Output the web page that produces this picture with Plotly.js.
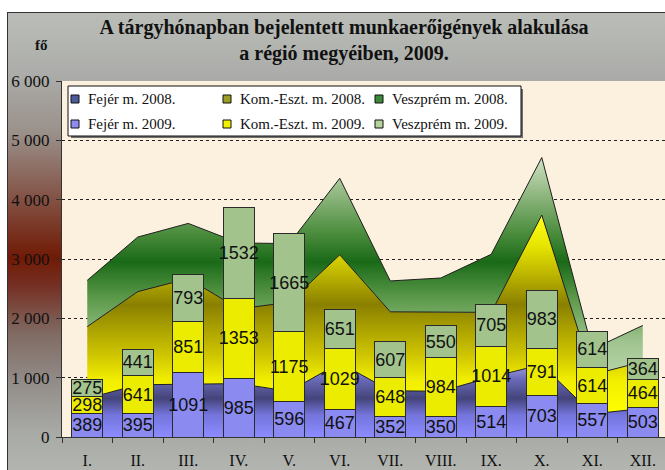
<!DOCTYPE html>
<html>
<head>
<meta charset="utf-8">
<script src="https://cdn.plot.ly/plotly-3.0.1.min.js"></script>
<style>
  html, body { margin: 0; padding: 0; background: #ffffff; overflow: hidden; }
  #bg {
    position: absolute; left: 7px; top: 12px; width: 670px; height: 470px;
    border-left: 1px solid #333; border-top: 1px solid #333;
    background: linear-gradient(to bottom,
      #babdb7 0px, #acadaa 60px, #9a908a 120px, #85574a 180px,
      #701a05 245px, #763226 275px, #806a62 320px, #938d89 370px,
      #a8aaa6 420px, #b3b5b1 458px);
  }
  #chart { position: absolute; left: 0; top: 0; width: 665px; height: 470px; }
</style>
</head>
<body>
<div id="bg"></div>
<div id="chart"></div>
<script>
// ---- data ----
const months = ['I.', 'II.', 'III.', 'IV.', 'V.', 'VI.', 'VII.', 'VIII.', 'IX.', 'X.', 'XI.', 'XII.'];
// 2008 (stacked areas)
const fejer2008 = [650, 880, 890, 900, 770, 1250, 780, 770, 1010, 1220, 390, 480];
const komEszt2008 = [1210, 1570, 1780, 1260, 1500, 1820, 1330, 1330, 1090, 2520, 660, 790];
const veszprem2008 = [780, 920, 930, 1110, 990, 1290, 520, 580, 980, 970, 430, 610];
// 2009 (stacked bars)
const fejer2009 = [389, 395, 1091, 985, 596, 467, 352, 350, 514, 703, 557, 503];
const komEszt2009 = [298, 641, 851, 1353, 1175, 1029, 648, 984, 1014, 791, 614, 464];
const veszprem2009 = [275, 441, 793, 1532, 1665, 651, 607, 550, 705, 983, 614, 364];
// axis labels
const yTickVals = [0, 1000, 2000, 3000, 4000, 5000, 6000];
const yTickText = ['0', '1 000', '2 000', '3 000', '4 000', '5 000', '6 000'];
const legendNames2008 = ['Fejér m. 2008.', 'Kom.-Eszt. m. 2008.', 'Veszprém m. 2008.'];
const legendNames2009 = ['Fejér m. 2009.', 'Kom.-Eszt. m. 2009.', 'Veszprém m. 2009.'];
const titleLines = ['A tárgyhónapban bejelentett munkaerőigények alakulása', 'a régió megyéiben, 2009.'];
const yUnit = 'fő';

// ---- styles ----
const serif = 'Liberation Serif, Times New Roman, serif';
const sans = 'Liberation Sans, Arial, sans-serif';
const legendSwatch2008 = ['#4c5a98', '#9a9e22', '#3a8a3a'];
const legendSwatch2009 = ['#8c8cf2', '#f0f000', '#b4d49c'];
const barColors = ['#8a8af0', '#ecec00', '#a2c48c'];

function areaTrace(name, y, gradient) {
  return {
    type: 'scatter', mode: 'lines', name: name, x: months, y: y,
    stackgroup: 'y2008', showlegend: false, hoverinfo: 'skip',
    line: { color: '#1e1e1e', width: 1 },
    fillgradient: gradient
  };
}
function barTrace(name, y, color) {
  return {
    type: 'bar', name: name, x: months, y: y, xaxis: 'x2', yaxis: 'y2',
    showlegend: false,
    marker: { color: color, line: { color: '#2a2a2a', width: 1 } },
    text: y.map(String), textposition: 'inside', insidetextanchor: 'middle',
    textangle: 0, constraintext: 'none', cliponaxis: false,
    textfont: { family: sans, size: 18, color: '#111' }
  };
}

const data = [
  areaTrace(legendNames2008[0], fejer2008, {
    type: 'vertical', start: 0, stop: 1250,
    colorscale: [[0, '#8c8cff'], [0.3, '#7474dc'], [0.52, '#44447a'], [0.78, '#6a6ab8'], [1, '#a4a4ee']]
  }),
  areaTrace(legendNames2008[1], komEszt2008, {
    type: 'vertical', start: 390, stop: 3740,
    colorscale: [[0, '#ffff00'], [0.17, '#f2ee00'], [0.3, '#cdc400'], [0.55, '#8a8000'], [0.7, '#bcb400'], [0.85, '#e8e600'], [1, '#ffff20']]
  }),
  areaTrace(legendNames2008[2], veszprem2008, {
    type: 'vertical', start: 1050, stop: 4710,
    colorscale: [[0, '#b8d4a8'], [0.15, '#a0c490'], [0.35, '#5c9a4a'], [0.52, '#1a6a18'], [0.65, '#4a8c3c'], [0.85, '#98bc88'], [1, '#d0e2c6']]
  }),
  barTrace(legendNames2009[0], fejer2009, barColors[0]),
  barTrace(legendNames2009[1], komEszt2009, barColors[1]),
  barTrace(legendNames2009[2], veszprem2009, barColors[2])
];

// manual legend (shapes + annotations), pixel offsets from plot top-left
const shapes = [];
const annotations = [];
function pxRect(x0, x1, y0, y1, fill, lineColor, lw) {
  return {
    type: 'rect', xref: 'paper', yref: 'paper', xsizemode: 'pixel', ysizemode: 'pixel',
    xanchor: 0, yanchor: 1, x0: x0, x1: x1, y0: -y0, y1: -y1,
    fillcolor: fill, line: { color: lineColor, width: lw }, layer: 'above'
  };
}
shapes.push(pxRect(9, 461, 8, 57, '#6e6e6e', '#6e6e6e', 0));
shapes.push(pxRect(6, 459, 5, 55, '#ffffff', '#111111', 1));
const colX = [13, 165, 317];
const rowY = [18, 43];
[legendNames2008, legendNames2009].forEach(function (names, r) {
  const sw = r === 0 ? legendSwatch2008 : legendSwatch2009;
  names.forEach(function (nm, c) {
    shapes.push(pxRect(colX[c] - 4, colX[c] + 4, rowY[r] - 4, rowY[r] + 4, sw[c], '#111', 1));
    annotations.push({
      xref: 'paper', yref: 'paper', x: 0, y: 1, xanchor: 'left', yanchor: 'middle',
      xshift: colX[c] + 11, yshift: -rowY[r], showarrow: false, text: nm,
      font: { family: serif, size: 15, color: '#111' }
    });
  });
});
annotations.push({
  xref: 'paper', yref: 'paper', x: 0, y: 1, xanchor: 'center', yanchor: 'middle',
  xshift: -21, yshift: 36, showarrow: false, text: '<b>' + yUnit + '</b>',
  font: { family: serif, size: 15, color: '#111' }
});

const layout = {
  width: 665, height: 470,
  margin: { l: 62, r: 0, t: 81, b: 33, pad: 0 },
  paper_bgcolor: 'rgba(0,0,0,0)',
  plot_bgcolor: '#fcf0de',
  showlegend: false,
  barmode: 'stack', bargap: 0.39,
  title: {
    text: '<b>' + titleLines[0] + '</b><br><b>' + titleLines[1] + '</b>',
    x: 344 / 665, xanchor: 'center', xref: 'container',
    y: 1 - 34 / 470, yanchor: 'top', yref: 'container',
    font: { family: serif, size: 20, color: '#111' }
  },
  xaxis: {
    type: 'category', range: [-0.5, 11.44], fixedrange: true,
    showline: true, linecolor: '#333', linewidth: 1,
    ticks: 'outside', ticklen: 5, tickcolor: '#333', tickson: 'boundaries',
    showgrid: false, zeroline: false,
    tickfont: { family: serif, size: 16, color: '#111' },
    ticklabelstandoff: 9
  },
  yaxis: {
    range: [0, 6000], fixedrange: true,
    tickvals: yTickVals, ticktext: yTickText,
    showline: true, linecolor: '#333', linewidth: 1,
    ticks: 'outside', ticklen: 5, tickcolor: '#333',
    showgrid: true, gridcolor: '#222', gridwidth: 1, griddash: '3px,3px',
    zeroline: false,
    tickfont: { family: serif, size: 17, color: '#111' },
    ticklabelstandoff: 3
  },
  xaxis2: { overlaying: 'x', matches: 'x', visible: false },
  yaxis2: { overlaying: 'y', matches: 'y', visible: false },
  shapes: shapes,
  annotations: annotations
};

Plotly.newPlot('chart', data, layout, { staticPlot: true, displayModeBar: false });
</script>
</body>
</html>
